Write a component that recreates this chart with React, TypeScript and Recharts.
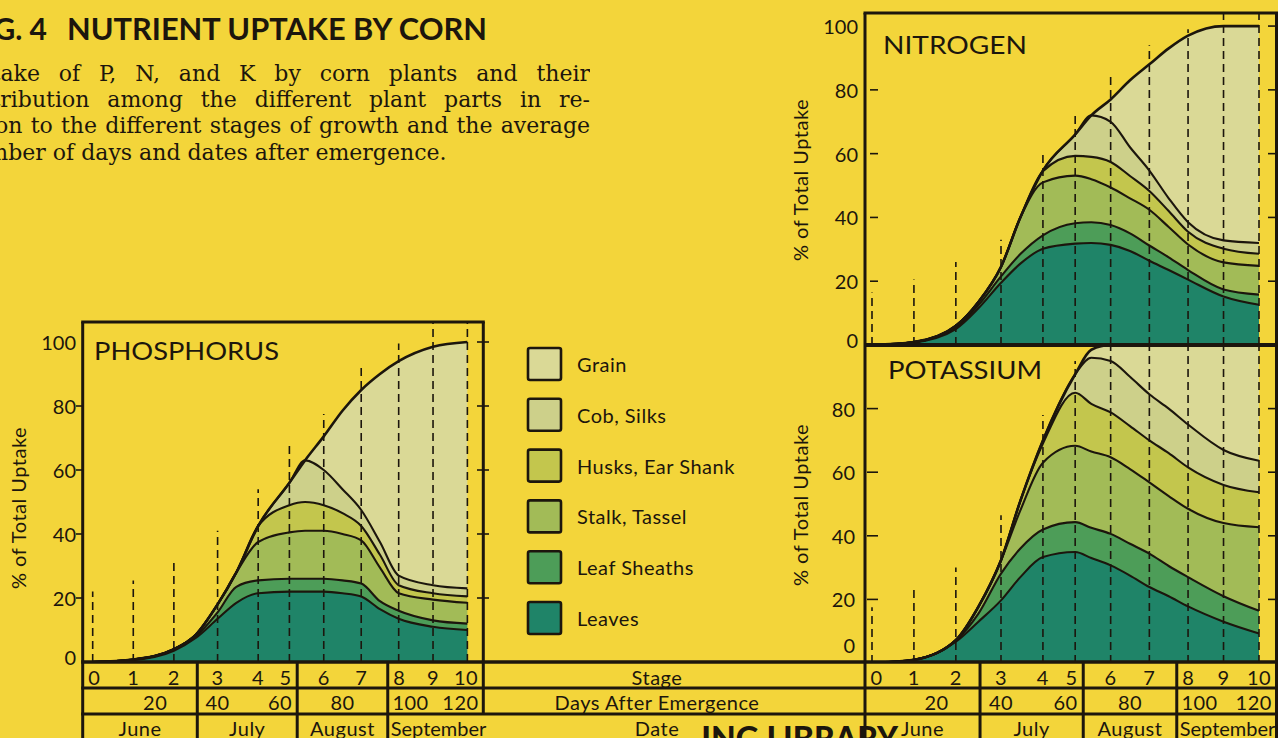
import React from 'react';
import { AreaChart, Area, XAxis, YAxis, ReferenceLine } from 'recharts';

const W = 1278;
const H = 738;
const BG = '#F3D53A';
const INK = '#1c160d';
const SANS = 'Lato, "Open Sans", sans-serif';
const SERIF = '"DejaVu Serif", serif';

// days after emergence at which the curves are read
const days = [0, 13, 26, 33, 40, 46, 53, 63, 68, 74, 80, 86, 92, 98, 109, 120];
// growth stages 0..10 and the day each one falls on
const stageDays = [0, 13, 26, 40, 53, 63, 74, 86, 98, 109, 120];
const stageLabels = ['0', '1', '2', '3', '4', '5', '6', '7', '8', '9', '10'];
const dayLabels = [20, 40, 60, 80, 100, 120];
const monthNames = ['June', 'July', 'August', 'September'];
const monthEdgeDays = [33.5, 65.5, 94.5];
const yTicks = [0, 20, 40, 60, 80, 100];

const partKeys = ['leaves', 'sheaths', 'stalk', 'husks', 'cob', 'grain'];
const partNames = ['Leaves', 'Leaf Sheaths', 'Stalk, Tassel', 'Husks, Ear Shank', 'Cob, Silks', 'Grain'];
const partColors = ['#1F8468', '#4D9D58', '#A2BB57', '#C3C64D', '#CDD08A', '#DAD996'];

// PHOSPHORUS: % of total uptake held in each plant part
const phosLeaves = [0, 0.6, 3.5, 7.5, 13.5, 18.5, 21.5, 22, 22, 22, 21.5, 20.5, 16.5, 13.5, 11, 10];
const phosSheaths = [0, 0.1, 0.3, 0.5, 2, 5, 4, 4, 4, 4, 4, 4, 2.5, 2.5, 2, 2];
const phosStalk = [0, 0.1, 0.2, 0.5, 2.5, 4.5, 12, 14.5, 15, 15, 14.5, 13.5, 10.5, 5.5, 6.5, 6.5];
const phosHusks = [0, 0, 0, 0, 0, 0, 5, 8.5, 9, 8, 6.5, 4.5, 4, 2.5, 2, 2];
const phosCob = [0, 0, 0, 0, 0, 0, 0, 7, 13, 11, 7.5, 5, 4, 3, 2.5, 2.5];
const phosGrain = [0, 0, 0, 0, 0, 0, 0, 0, 0, 10.5, 24.5, 37.5, 52.5, 67, 74.5, 77];

// NITROGEN
const nitLeaves = [0, 0.8, 5, 11.5, 19.5, 25.5, 30.2, 31.8, 32, 31.4, 29.5, 26.4, 23.5, 20.5, 15.2, 12.6];
const nitSheaths = [0, 0.1, 0.5, 1, 2, 3, 4.2, 6.4, 6.5, 6.2, 5.5, 4.8, 4, 3, 2.2, 3.2];
const nitStalk = [0, 0, 0.5, 1, 3, 11.5, 16.6, 14.9, 13.5, 11.8, 11, 11.2, 9.5, 8, 8.5, 9];
const nitHusks = [0, 0, 0, 0, 0, 0, 3.5, 6.2, 7, 8, 7, 5.9, 5, 4, 4.3, 3.8];
const nitCob = [0, 0, 0, 0, 0, 0, 0.2, 6.7, 13, 12.6, 9, 6.4, 4, 3, 2.6, 3.4];
const nitGrain = [0, 0, 0, 0, 0, 0, 0, 0, 0, 7, 21, 33.3, 47, 58.5, 67.2, 68];

// POTASSIUM
const potLeaves = [0, 0.9, 6.7, 13, 19.7, 27, 33.3, 34.9, 33, 30.7, 27.5, 23.9, 21, 17.8, 13, 9.3];
const potSheaths = [0, 0.1, 0.3, 2.5, 8.4, 9, 8.7, 9.4, 9.5, 9.9, 10, 10.5, 9.5, 9.2, 8, 7.1];
const potStalk = [0, 0, 0.2, 2.2, 4.2, 12, 21, 24, 24, 24.1, 23.5, 22.4, 22, 21.5, 23, 26.3];
const potHusks = [0, 0, 0, 0, 0, 3, 6, 16.7, 15, 14.1, 13.5, 13.2, 13.5, 13, 12, 11];
const potCob = [0, 0, 0, 0, 0, 0, 1, 5.8, 14.5, 16.2, 15.5, 14.5, 14, 13.5, 11, 9.9];
const potGrain = [0, 0, 0, 0, 0, 0, 0, 0, 2.5, 5, 10, 15.5, 20, 25, 33, 36.4];

// heights reached by the dashed stage lines in each panel
const phosStageTops = [22, 25.5, 32.5, 41, 54, 68, 77.5, 92, 99.5, 106, 106];
const nitStageTops = [16.5, 20.5, 26, 33, 61, 72, 84, 94, 99, 104, 104];
const potStageTops = [17.5, 23.5, 30, 46.5, 78, 95, 100, 100, 100, 100, 100];

const build = (series: number[][]) =>
  days.map((d, i) => {
    const row: Record<string, number> = { day: d };
    partKeys.forEach((k, j) => {
      row[k] = series[j][i];
    });
    return row;
  });

const phosData = build([phosLeaves, phosSheaths, phosStalk, phosHusks, phosCob, phosGrain]);
const nitData = build([nitLeaves, nitSheaths, nitStalk, nitHusks, nitCob, nitGrain]);
const potData = build([potLeaves, potSheaths, potStalk, potHusks, potCob, potGrain]);

type Geo = { left: number; right: number; top: number; bottom: number; xMin: number; xMax: number; yMax: number };

const PHOS: Geo = { left: 82.7, right: 483.3, top: 322, bottom: 662, xMin: -3.2, xMax: 125.1, yMax: 106.25 };
const NIT: Geo = { left: 865, right: 1276, top: 13, bottom: 345, xMin: -2.17, xMax: 125.27, yMax: 104.1 };
const POT: Geo = { left: 865, right: 1276, top: 345, bottom: 663, xMin: -2.17, xMax: 125.27, yMax: 100 };

const xOf = (g: Geo, d: number) => g.left + ((d - g.xMin) / (g.xMax - g.xMin)) * (g.right - g.left);

type TickCfg = { labelX: number; l1: number; l2: number; r1: number; r2: number; zeroShift: number; show100: boolean };

const makeTick = (c: TickCfg) => (props: any) => {
  const { y, payload } = props;
  const v = payload.value;
  return (
    <g>
      {(v !== 100 || c.show100) && (
        <text x={c.labelX} y={y + (v === 0 ? c.zeroShift : 0)} textAnchor="end" dominantBaseline="central"
          fontSize={20} fontFamily={SANS} fill={INK}>{v}</text>
      )}
      {v > 0 && v < 100 && <line x1={c.l1} x2={c.l2} y1={y} y2={y} stroke={INK} strokeWidth={1.6} />}
      {v > 0 && <line x1={c.r1} x2={c.r2} y1={y} y2={y} stroke={INK} strokeWidth={1.6} />}
    </g>
  );
};

function Panel({ data, geo, stageTops, tick }: { data: any[]; geo: Geo; stageTops: number[]; tick: any }) {
  const yw = 50;
  return (
    <div style={{ position: 'absolute', left: 0, top: 0 }}>
      <AreaChart width={W} height={H} data={data}
        margin={{ top: geo.top, right: W - geo.right, bottom: H - geo.bottom, left: geo.left - yw }}>
        <XAxis type="number" dataKey="day" domain={[geo.xMin, geo.xMax]} hide allowDataOverflow />
        <YAxis type="number" domain={[0, geo.yMax]} ticks={yTicks} width={yw} axisLine={false} tickLine={false}
          tick={tick} interval={0} allowDataOverflow />
        {partKeys.map((k, i) => (
          <Area key={'f' + k} type="monotone" dataKey={k} name={partNames[i]} stackId="fill" stroke="none"
            fill={partColors[i]} fillOpacity={1} isAnimationActive={false} dot={false} activeDot={false} />
        ))}
        {partKeys.map((k, i) => (
          <Area key={'l' + k} type="monotone" dataKey={k} name={partNames[i]} stackId="line" stroke={INK}
            strokeWidth={i === 5 ? 2.6 : 2.1} fill="none" isAnimationActive={false} dot={false} activeDot={false} />
        ))}
        {stageDays.map((d, i) => (
          <ReferenceLine key={i} segment={[{ x: d, y: 0 }, { x: d, y: stageTops[i] }]} stroke={INK}
            strokeWidth={1.6} strokeDasharray="8 5" />
        ))}
      </AreaChart>
    </div>
  );
}

const clampX = (x: number, lo: number, hi: number, half: number) => Math.min(Math.max(x, lo + 6 + half), hi - 6 - half);

const TXT = { fontFamily: SANS, fontSize: 20, letterSpacing: 0.5 };

function Table({ g, right }: { g: Geo; right: number }) {
  const edges = [g.left, ...monthEdgeDays.map((d) => xOf(g, d)), right];
  const colOf = (x: number) => {
    let c = 0;
    for (let j = 0; j < 4; j++) if (x >= edges[j]) c = j;
    return c;
  };
  return (
    <g {...TXT} fill={INK}>
      {edges.slice(1, 4).map((x, i) => (
        <line key={'e' + i} x1={x} x2={x} y1={662} y2={738} stroke={INK} strokeWidth={3} />
      ))}
      {stageDays.map((d, i) => {
        const x = xOf(g, d);
        const c = colOf(x);
        const half = stageLabels[i].length * 5.6;
        return (
          <text key={'s' + i} x={clampX(x, edges[c], edges[c + 1], half)} y={677} textAnchor="middle" dominantBaseline="central">
            {stageLabels[i]}
          </text>
        );
      })}
      {dayLabels.map((d, i) => {
        const x = xOf(g, d);
        const c = colOf(x);
        const half = String(d).length * 5.6;
        return (
          <text key={'d' + i} x={clampX(x, edges[c], edges[c + 1], half)} y={702} textAnchor="middle" dominantBaseline="central">
            {d}
          </text>
        );
      })}
      {monthNames.map((m, i) =>
        i < 3 ? (
          <text key={'m' + i} x={(edges[i] + edges[i + 1]) / 2} y={728} textAnchor="middle" dominantBaseline="central">{m}</text>
        ) : (
          <text key={'m' + i} x={edges[i] + 3} y={728} textAnchor="start" dominantBaseline="central" letterSpacing={0}>{m}</text>
        )
      )}
    </g>
  );
}

function Overlay() {
  const legendOrder = [5, 4, 3, 2, 1, 0];
  return (
    <svg width={W} height={H} style={{ position: 'absolute', left: 0, top: 0, pointerEvents: 'none' }}>
      {/* title */}
      <g fontFamily={SANS} fontWeight={700} fontSize={30} fill={INK}>
        <text x={47} y={39.5} textAnchor="end">FIG. 4</text>
        <text x={67} y={39.5} textLength={420} lengthAdjust="spacingAndGlyphs">NUTRIENT UPTAKE BY CORN</text>
      </g>
      {/* frames */}
      <g stroke={INK} strokeWidth={3} fill="none">
        <line x1={PHOS.left - 1.5} x2={PHOS.right + 1.5} y1={PHOS.top} y2={PHOS.top} />
        <line x1={PHOS.left} x2={PHOS.left} y1={PHOS.top} y2={738} />
        <line x1={PHOS.right} x2={PHOS.right} y1={PHOS.top} y2={714} />
        <line x1={NIT.left - 1.5} x2={1278} y1={NIT.top} y2={NIT.top} />
        <line x1={NIT.left} x2={NIT.left} y1={NIT.top} y2={738} />
        <line x1={1276.5} x2={1276.5} y1={NIT.top} y2={738} />
        <line x1={NIT.left} x2={1278} y1={345} y2={345} strokeWidth={4} />
        <line x1={PHOS.left - 1.5} x2={1278} y1={662} y2={662} strokeWidth={3.5} />
        <line x1={PHOS.left - 1.5} x2={1278} y1={688} y2={688} />
        <line x1={PHOS.left - 1.5} x2={1278} y1={714} y2={714} />
      </g>
      <Table g={PHOS} right={PHOS.right} />
      <Table g={NIT} right={1276.5} />
      <g {...TXT} fill={INK} textAnchor="middle">
        <text x={657} y={677} dominantBaseline="central">Stage</text>
        <text x={657} y={702} dominantBaseline="central">Days After Emergence</text>
        <text x={657} y={728} dominantBaseline="central">Date</text>
      </g>
      <text x={898} y={750} textAnchor="end" fontFamily={SANS} fontWeight={900} fontSize={32} fill={INK}>ING LIBRARY</text>
      {/* panel titles */}
      <g fontFamily={SANS} fontSize={25} fill={INK}>
        <text x={94} y={360} textLength={185} lengthAdjust="spacingAndGlyphs">PHOSPHORUS</text>
        <text x={883} y={54} textLength={144} lengthAdjust="spacingAndGlyphs">NITROGEN</text>
        <text x={888} y={379} textLength={154} lengthAdjust="spacingAndGlyphs">POTASSIUM</text>
      </g>
      {/* axis titles */}
      <g {...TXT} fill={INK} textAnchor="middle">
        <text transform="translate(18,508) rotate(-90)" dominantBaseline="central">% of Total Uptake</text>
        <text transform="translate(800,180) rotate(-90)" dominantBaseline="central">% of Total Uptake</text>
        <text transform="translate(800,505) rotate(-90)" dominantBaseline="central">% of Total Uptake</text>
      </g>
      {/* legend */}
      {legendOrder.map((p, i) => (
        <g key={p}>
          <rect x={528} y={348 + i * 50.8} width={33} height={32} rx={2} fill={partColors[p]} stroke={INK} strokeWidth={2.6} />
          <text x={577} y={364 + i * 50.8} dominantBaseline="central" {...TXT} fill={INK}>
            {partNames[p]}
          </text>
        </g>
      ))}
    </svg>
  );
}

const subtitleLines = [
  'Uptake of P, N, and K by corn plants and their',
  'distribution among the different plant parts in re-',
  'lation to the different stages of growth and the average',
  'number of days and dates after emergence.',
];

function Subtitle() {
  return (
    <div style={{ position: 'absolute', left: -41, top: 60.9, width: 631, fontFamily: SERIF, fontSize: 22, lineHeight: '26.3px', color: INK }}>
      {subtitleLines.map((t, i) => (
        <div key={i} style={{ height: 26.3, overflow: 'hidden', textAlign: i < 3 ? 'justify' : 'left', textAlignLast: i < 3 ? 'justify' : 'left' } as any}>
          {t}
        </div>
      ))}
    </div>
  );
}

export default function App() {
  const pTick = makeTick({ labelX: 76, l1: 76, l2: 83, r1: 477, r2: 489, zeroShift: -5, show100: true });
  const nTick = makeTick({ labelX: 858, l1: 870, l2: 878, r1: 1268, r2: 1278, zeroShift: -5, show100: true });
  const kTick = makeTick({ labelX: 855, l1: 867, l2: 878, r1: 1268, r2: 1278, zeroShift: -18, show100: false });
  return (
    <div style={{ position: 'fixed', left: 0, top: 0, width: W, height: H, background: BG, overflow: 'hidden' }}>
      <Subtitle />
      <Panel data={phosData} geo={PHOS} stageTops={phosStageTops} tick={pTick} />
      <Panel data={nitData} geo={NIT} stageTops={nitStageTops} tick={nTick} />
      <Panel data={potData} geo={POT} stageTops={potStageTops} tick={kTick} />
      <Overlay />
    </div>
  );
}
